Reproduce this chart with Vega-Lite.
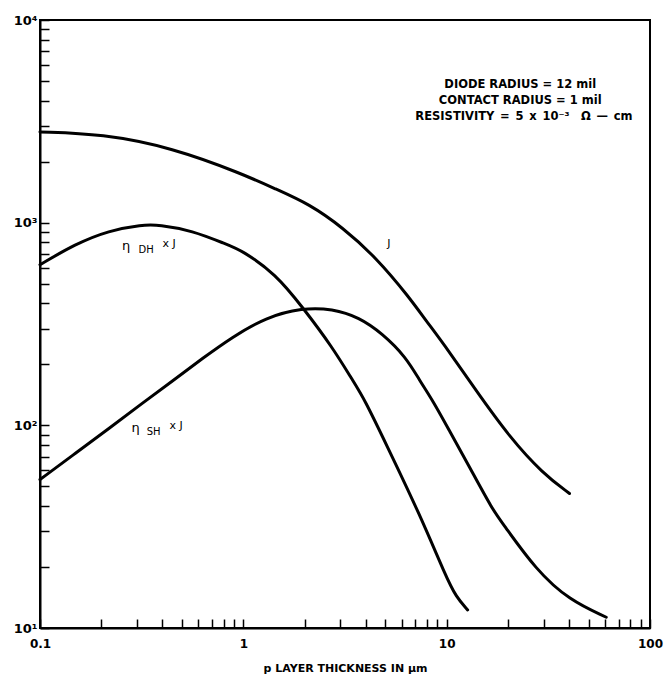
{
  "$schema": "https://vega.github.io/schema/vega-lite/v6.json",
  "autosize": {"type": "none"},
  "width": 610,
  "height": 608,
  "padding": {"left": 40, "top": 20, "right": 14, "bottom": 47},
  "background": "white",
  "config": {
    "view": {"stroke": "black", "strokeWidth": 2},
    "font": "Liberation Sans"
  },
  "datasets": {
    "curves": [
      {"curve": "J", "x": 0.1, "y": 2805},
      {"curve": "J", "x": 0.2018, "y": 2742},
      {"curve": "J", "x": 0.4467, "y": 2344},
      {"curve": "J", "x": 0.9886, "y": 1742},
      {"curve": "J", "x": 1.442, "y": 1466},
      {"curve": "J", "x": 2.109, "y": 1236},
      {"curve": "J", "x": 3.076, "y": 948},
      {"curve": "J", "x": 4.487, "y": 675},
      {"curve": "J", "x": 6.546, "y": 428.5},
      {"curve": "J", "x": 7.907, "y": 328.9},
      {"curve": "J", "x": 9.55, "y": 257},
      {"curve": "J", "x": 13.93, "y": 148.6},
      {"curve": "J", "x": 20.37, "y": 87.5},
      {"curve": "J", "x": 29.72, "y": 57.8},
      {"curve": "J", "x": 40.18, "y": 46.1},
      {"curve": "DH", "x": 0.1, "y": 620},
      {"curve": "DH", "x": 0.1493, "y": 785},
      {"curve": "DH", "x": 0.2178, "y": 914},
      {"curve": "DH", "x": 0.3177, "y": 977},
      {"curve": "DH", "x": 0.3846, "y": 977},
      {"curve": "DH", "x": 0.561, "y": 914},
      {"curve": "DH", "x": 0.8185, "y": 785},
      {"curve": "DH", "x": 0.9886, "y": 728},
      {"curve": "DH", "x": 1.442, "y": 558},
      {"curve": "DH", "x": 1.954, "y": 383},
      {"curve": "DH", "x": 2.742, "y": 243},
      {"curve": "DH", "x": 3.443, "y": 167},
      {"curve": "DH", "x": 3.936, "y": 135},
      {"curve": "DH", "x": 5.023, "y": 81.3},
      {"curve": "DH", "x": 7.345, "y": 36.7},
      {"curve": "DH", "x": 9.93, "y": 17.9},
      {"curve": "DH", "x": 11.12, "y": 14.26},
      {"curve": "DH", "x": 12.68, "y": 12.27},
      {"curve": "SH", "x": 0.1, "y": 54},
      {"curve": "SH", "x": 0.15, "y": 73},
      {"curve": "SH", "x": 0.22, "y": 97},
      {"curve": "SH", "x": 0.32, "y": 129},
      {"curve": "SH", "x": 0.45, "y": 166},
      {"curve": "SH", "x": 0.63, "y": 214},
      {"curve": "SH", "x": 0.88, "y": 272},
      {"curve": "SH", "x": 1.29, "y": 341},
      {"curve": "SH", "x": 1.95, "y": 380},
      {"curve": "SH", "x": 2.74, "y": 376},
      {"curve": "SH", "x": 3.715, "y": 341},
      {"curve": "SH", "x": 4.842, "y": 283},
      {"curve": "SH", "x": 6.31, "y": 217},
      {"curve": "SH", "x": 7.345, "y": 167},
      {"curve": "SH", "x": 8.531, "y": 133},
      {"curve": "SH", "x": 10.3, "y": 94.4},
      {"curve": "SH", "x": 12.94, "y": 62.4},
      {"curve": "SH", "x": 16.87, "y": 38.1},
      {"curve": "SH", "x": 18.88, "y": 32.8},
      {"curve": "SH", "x": 27.54, "y": 19.3},
      {"curve": "SH", "x": 40.18, "y": 13.7},
      {"curve": "SH", "x": 60.95, "y": 11.3}
    ],
    "notes": [
      {"text": "DIODE RADIUS = 12 mil", "x": 23, "y": 4775},
      {"text": "CONTACT RADIUS = 1 mil", "x": 23, "y": 3981},
      {"text": "RESISTIVITY\u2002=\u20025\u2002x\u200210⁻³\u2003Ω\u2002—\u2002cm", "x": 24, "y": 3319}
    ],
    "labels": [
      {"text": "J", "x": 5.2, "y": 789, "size": 11},
      {"text": "η", "x": 0.2655, "y": 771, "size": 13},
      {"text": "DH", "x": 0.3327, "y": 735, "size": 10},
      {"text": "x J", "x": 0.4315, "y": 789, "size": 11},
      {"text": "η", "x": 0.295, "y": 96.6, "size": 13},
      {"text": "SH", "x": 0.362, "y": 92.5, "size": 10},
      {"text": "x J", "x": 0.4677, "y": 98.9, "size": 11}
    ]
  },
  "layer": [
    {
      "data": {"name": "curves"},
      "mark": {"type": "line", "interpolate": "basis", "color": "black", "strokeWidth": 3, "strokeCap": "round"},
      "encoding": {
        "x": {
          "field": "x", "type": "quantitative",
          "scale": {"type": "log", "domain": [0.1, 100], "nice": false},
          "axis": {
            "title": "p LAYER THICKNESS IN μm",
            "titleFont": "DejaVu Sans", "titleFontSize": 11, "titleFontWeight": "bold", "titleColor": "black",
            "titlePadding": 13,
            "values": [0.1,0.2,0.3,0.4,0.5,0.6,0.7,0.8,0.9,1,2,3,4,5,6,7,8,9,10,20,30,40,50,60,70,80,90,100],
            "labelExpr": "datum.value == 0.1 ? '0.1' : datum.value == 1 ? '1' : datum.value == 10 ? '10' : datum.value == 100 ? '100' : ''",
            "labelFont": "DejaVu Sans", "labelFontSize": 12, "labelFontWeight": "bold", "labelColor": "black", "labelPadding": 19,
            "labelFlush": false, "labelOverlap": false,
            "tickSize": -9, "tickColor": "black", "tickWidth": 1.5,
            "domainColor": "black", "domainWidth": 2, "grid": false
          }
        },
        "y": {
          "field": "y", "type": "quantitative",
          "scale": {"type": "log", "domain": [10, 10000], "nice": false},
          "axis": {
            "title": null,
            "values": [10,20,30,40,50,60,70,80,90,100,200,300,400,500,600,700,800,900,1000,2000,3000,4000,5000,6000,7000,8000,9000,10000],
            "labelExpr": "datum.value == 10 ? '10¹' : datum.value == 100 ? '10²' : datum.value == 1000 ? '10³' : datum.value == 10000 ? '10⁴' : ''",
            "labelFont": "DejaVu Sans", "labelFontSize": 13, "labelFontWeight": "bold", "labelColor": "black", "labelPadding": 12,
            "labelFlush": false, "labelOverlap": false,
            "tickSize": -9, "tickColor": "black", "tickWidth": 1.5,
            "domainColor": "black", "domainWidth": 2, "grid": false
          }
        },
        "detail": {"field": "curve"}
      }
    },
    {
      "data": {"name": "notes"},
      "mark": {"type": "text", "align": "center", "baseline": "middle", "fontSize": 11.5, "fontWeight": "bold", "font": "DejaVu Sans", "color": "black"},
      "encoding": {
        "x": {"field": "x", "type": "quantitative"},
        "y": {"field": "y", "type": "quantitative"},
        "text": {"field": "text"}
      }
    },
    {
      "data": {"name": "labels"},
      "mark": {"type": "text", "align": "center", "baseline": "middle", "font": "DejaVu Sans", "color": "black"},
      "encoding": {
        "x": {"field": "x", "type": "quantitative"},
        "y": {"field": "y", "type": "quantitative"},
        "text": {"field": "text"},
        "size": {"field": "size", "type": "quantitative", "scale": null}
      }
    }
  ]
}
